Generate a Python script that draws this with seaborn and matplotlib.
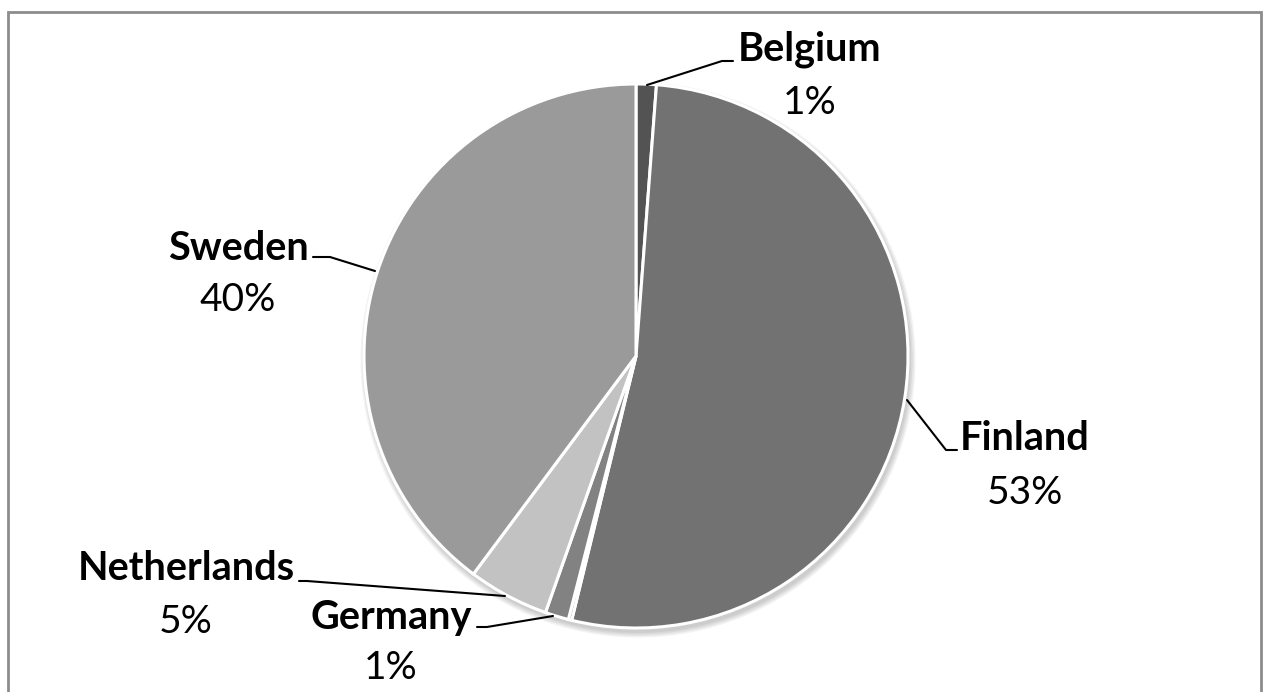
import matplotlib
matplotlib.use("Agg")
import matplotlib.pyplot as plt
import seaborn as sns
from matplotlib.patches import Circle, Rectangle

countries = ["Belgium", "Finland", "Other", "Germany", "Netherlands", "Sweden"]
shares = [1.2, 52.6, 0.2, 1.4, 4.8, 39.8]
pct_labels = ["1%", "53%", "", "1%", "5%", "40%"]
colors = ["#535353", "#727272", "#5c5c5c", "#828282", "#c2c2c2", "#9a9a9a"]

sns.set_theme(style="white")
plt.rcParams['font.family'] = ['Lato', 'DejaVu Sans']

W, H = 1263, 692
fig = plt.figure(figsize=(W / 100, H / 100), dpi=100)
ax = fig.add_axes([0, 0, 1, 1])
ax.set_xlim(0, W)
ax.set_ylim(0, H)
ax.set_aspect('equal')
ax.axis('off')

def Y(y):
    return H - y

cx, cy, r = 636, 356, 272

# frame
ax.add_patch(Rectangle((7.5, Y(720)), 1253, 720 - 11.5, fill=False,
                       edgecolor="#8c8c8c", linewidth=2, zorder=0))

# soft shadow
for i, a in enumerate([0.05, 0.05, 0.05, 0.05]):
    ax.add_patch(Circle((cx + 2, Y(cy + 4)), r + 1 + i * 1.5, color="black",
                        alpha=a, linewidth=0, zorder=1))

ax.pie(shares, colors=colors, startangle=90, counterclock=False,
       center=(cx, Y(cy)), radius=r, frame=True,
       wedgeprops=dict(edgecolor="white", linewidth=2.2, zorder=2))
ax.set_xlim(0, W)
ax.set_ylim(0, H)
ax.axis('off')

# labels: (name, pct, text center x, name y, pct y, leader points)
labels = [
    ("Belgium", "1%", 810, 49, 103, [(647, 85), (722, 61), (733, 61)]),
    ("Finland", "53%", 1025, 439, 493, [(907, 400), (946, 450), (957, 450)]),
    ("Sweden", "40%", 238, 248, 300, [(375, 271), (330, 257), (313, 257)]),
    ("Netherlands", "5%", 186, 569, 622, [(505, 596), (307, 581), (299, 581)]),
    ("Germany", "1%", 391, 618, 668, [(553, 616), (487, 627), (477, 627)]),
]
for name, pct, tx, ny, py, pts in labels:
    ax.text(tx, Y(ny), name, ha="center", va="center", fontsize=28.5,
            fontweight="bold", color="black", zorder=5)
    ax.text(tx, Y(py), pct, ha="center", va="center", fontsize=28,
            color="black", zorder=5)
    xs = [p[0] for p in pts]
    ys = [Y(p[1]) for p in pts]
    ax.plot(xs, ys, color="black", linewidth=1.5, zorder=4)

fig.savefig("out.png", dpi=100)
